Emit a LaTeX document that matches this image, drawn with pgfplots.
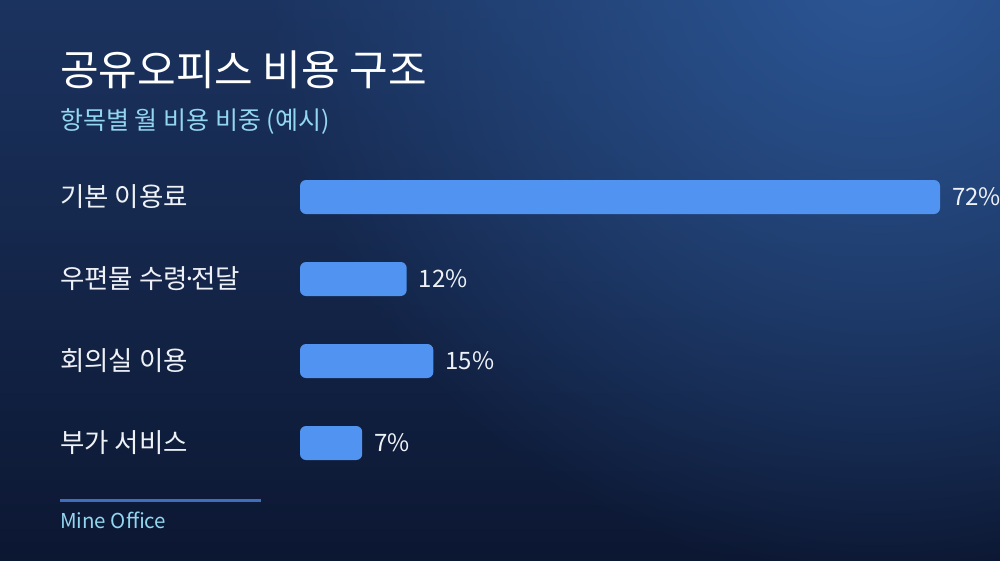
\documentclass[border=0pt]{standalone}
\usepackage{fontspec}
\setmainfont{Noto Sans CJK KR}
\usepackage{pgfplots}
\pgfplotsset{compat=1.18}
\usetikzlibrary{fadings}

\definecolor{bgtop}{HTML}{1B335F}
\definecolor{bgbot}{HTML}{0C1732}
\definecolor{glow}{HTML}{2C5796}
\definecolor{barblue}{HTML}{5193F0}
\definecolor{subcyan}{HTML}{93D6F0}
\definecolor{linkblue}{HTML}{3F6EBB}
\definecolor{labelwhite}{HTML}{EEF1F6}

\tikzfading[name=glowfade, inner color=transparent!0, outer color=transparent!100]

\begin{document}
\begin{tikzpicture}[x=1pt,y=1pt]
  \useasboundingbox (0,0) rectangle (1000,560);
  \begin{scope}
    \clip (0,0) rectangle (1000,560);
    \shade[top color=bgtop, bottom color=bgbot] (0,0) rectangle (1000,560);
    \fill[glow, path fading=glowfade] (880,600) circle (620);
  \end{scope}

  % title and subtitle
  \node[anchor=base west, inner sep=0pt, text=white]
    at (60,474) {\fontsize{42pt}{48pt}\selectfont 공유오피스 비용 구조};
  \node[anchor=base west, inner sep=0pt, text=subcyan]
    at (60,430) {\fontsize{25pt}{30pt}\selectfont 항목별 월 비용 비중 (예시)};

  \begin{axis}[
    at={(300pt,76pt)}, anchor=south west,
    scale only axis,
    width=640pt, height=328pt,
    xmin=0, xmax=72,
    ymin=-0.5, ymax=3.5,
    y dir=reverse,
    xbar,
    bar width=34pt,
    axis line style={draw=none},
    major tick length=0pt,
    xtick=\empty,
    ytick={0,1,2,3},
    yticklabels={기본 이용료, 우편물 수령\kern-0.22em·\kern-0.22em전달, 회의실 이용, 부가 서비스},
    yticklabel style={anchor=west, xshift=-240pt, inner sep=0pt,
      font=\fontsize{26.5pt}{30pt}\selectfont, text=labelwhite},
    clip=false,
    point meta=x,
    /pgf/number format/assume math mode=true,
    nodes near coords={\pgfmathprintnumber{\pgfplotspointmeta}\%},
    every node near coord/.append style={anchor=west, inner sep=0pt,
      xshift=12pt, text=labelwhite, font=\fontsize{24pt}{28pt}\selectfont},
  ]
    \addplot[fill=barblue, draw=none, rounded corners=6pt] coordinates {
      (72,0) (12,1) (15,2) (7,3)
    };
  \end{axis}

  % footer
  \draw[linkblue, line width=3pt] (60,60) -- (261,60);
  \node[anchor=base west, inner sep=0pt, text=subcyan]
    at (60,32) {\fontsize{20.5pt}{24pt}\selectfont Mine Office};
\end{tikzpicture}
\end{document}
